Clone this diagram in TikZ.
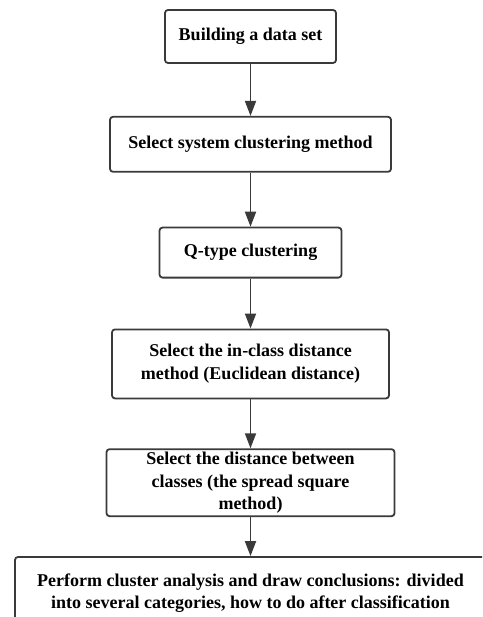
\documentclass[tikz,border=0pt]{standalone}
\usepackage{fontspec}
\setmainfont{Liberation Serif}
\usetikzlibrary{positioning,arrows.meta}
\definecolor{linecolor}{RGB}{58,58,58}

\begin{document}
\begin{tikzpicture}[x=1pt, y=1pt,
			stepbox/.style={rectangle, rounded corners=3pt, draw=linecolor, line width=1.8pt, fill=white, align=center, inner sep=2pt, font=\fontsize{18}{22.7}\selectfont\bfseries},
			flow/.style={-{Triangle[length=15pt, width=11pt]}, draw=linecolor, line width=1.8pt},
		]
		\useasboundingbox (0,0) rectangle (482,-617);
		\clip (0,0) rectangle (482,-617);

		\node[stepbox, minimum width=171pt, minimum height=53pt] (build) at (250.5,-36.5) {Building a data set};
		\node[stepbox, minimum width=281pt, minimum height=55pt] (method) [below=52pt of build] {Select system clustering method};
		\node[stepbox, minimum width=182pt, minimum height=50pt] (qtype)  [below=54pt of method] {Q-type clustering};
		\node[stepbox, minimum width=277pt, minimum height=69pt] (inclass) [below=50pt of qtype] {Select the in-class distance\\method (Euclidean distance)};
		\node[stepbox, minimum width=288pt, minimum height=67pt] (between) [below=49pt of inclass] {Select the distance between\\classes (the spread square\\method)};
		\node[stepbox, minimum width=471pt, minimum height=72pt] (result) [below=39pt of between] {Perform cluster analysis and draw conclusions: divided\\into several categories, how to do after classification};


		\draw[flow] (build) -- (method);
		\draw[flow] (method) -- (qtype);
		\draw[flow] (qtype) -- (inclass);
		\draw[flow] (inclass) -- (between);
		\draw[flow] (between) -- (result);


		\end{tikzpicture}
\end{document}
